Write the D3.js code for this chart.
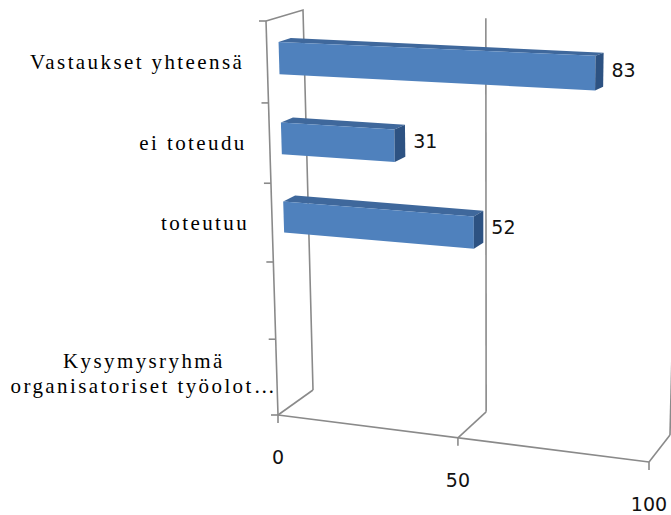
<!DOCTYPE html>
<html>
<head>
<meta charset="utf-8">
<script src="https://cdn.jsdelivr.net/npm/d3@7"></script>
<style>
  body { margin: 0; background: #fff; }
  .num { font-family: "DejaVu Sans", Verdana, sans-serif; font-size: 19px; fill: #111; }
</style>
</head>
<body>
<svg id="chart" width="671" height="515"></svg>
<script>
// categories in Excel order (first one sits at the bottom)
const categories = ["Kysymysryhmä\norganisatoriset työolot…", "", "toteutuu", "ei toteudu", "Vastaukset yhteensä"];
const values = [null, null, 52, 31, 83];
const xTicks = [0, 50, 100];

const svg = d3.select('#chart');

// corners of the 3D box on screen: t = top(0)/bottom(1), u = value 0/100
const front = { t0u0: [266, 21], t0u1: [658, 35], t1u0: [278, 415], t1u1: [649, 462] };
const back  = { t0u0: [303, 10], t0u1: [680, 27], t1u0: [313, 390], t1u1: [670, 435] };

const x = d3.scaleLinear().domain([0, 100]).range([0, 1]);
const y = d3.scaleBand()
  .domain(categories.slice().reverse())
  .range([0, 1])
  .paddingInner(0.6)
  .paddingOuter(0.3);

// a little perspective foreshortening
const warpU = u => u * (1 - 0.0583) / (1 - 0.0583 * u);
const warpT = t => t * 1.05 / (1 + 0.05 * t);
const lerp = (a, b, k) => [a[0] + (b[0] - a[0]) * k, a[1] + (b[1] - a[1]) * k];

function proj(v, t, z) {
  const u = warpU(x(v)), s = warpT(t);
  const plane = p => lerp(lerp(p.t0u0, p.t1u0, s), lerp(p.t0u1, p.t1u1, s), u);
  return lerp(plane(front), plane(back), z);
}

const line = d3.line();
const grid = svg.append('g')
  .attr('fill', 'none')
  .attr('stroke', '#8a8a8a')
  .attr('stroke-width', 1.6);

// left wall
grid.append('path').attr('d', line([proj(0, 0, 0), proj(0, 1, 0)]));
grid.append('path').attr('d', line([proj(0, 0, 0), proj(0, 0, 1), proj(0, 1, 1)]));
// back wall gridlines
xTicks.filter(v => v > 0).forEach(v => {
  grid.append('path').attr('d', line([proj(v, 0, 1), proj(v, 1, 1)]));
});
// floor
grid.append('path').attr('d', line([proj(0, 1, 0), proj(100, 1, 0)]));
xTicks.forEach(v => {
  grid.append('path').attr('d', line([proj(v, 1, 1), proj(v, 1, 0)]));
});

// category axis ticks
const step = y.step();
d3.range(categories.length + 1).forEach(i => {
  const p = proj(0, i * step, 0);
  grid.append('path').attr('d', line([[p[0] - 7, p[1]], p]));
});
// value axis ticks + labels
xTicks.forEach(v => {
  const p = proj(v, 1, 0);
  grid.append('path').attr('d', line([p, [p[0], p[1] + 8]]));
  svg.append('text')
    .attr('class', 'num')
    .attr('x', p[0])
    .attr('y', p[1] + 42)
    .attr('text-anchor', 'middle')
    .attr('dominant-baseline', 'central')
    .text(v);
});

// category labels
const catFont = t => t
  .attr('font-family', 'Liberation Serif')
  .attr('font-size', 21)
  .attr('letter-spacing', 2.4)
  .attr('fill', '#000');

categories.forEach(c => {
  if (!c) return;
  const tm = y(c) + y.bandwidth() / 2;
  const p = proj(0, tm, 0);
  const lines = c.split('\n');
  if (lines.length === 1) {
    svg.append('text')
      .call(catFont)
      .attr('x', p[0] - 23)
      .attr('y', p[1] + 7)
      .attr('text-anchor', 'end')
      .text(c);
  } else {
    lines.forEach((l, i) => {
      svg.append('text')
        .call(catFont)
        .attr('x', p[0] - 133)
        .attr('y', p[1] - 9 + i * 25)
        .attr('text-anchor', 'middle')
        .text(l);
    });
  }
});

// bars
const z0 = 0.32, z1 = 0.65;
const bars = svg.append('g');
categories.forEach((c, i) => {
  const v = values[i];
  if (v == null) return;
  const t0 = y(c), t1 = y(c) + y.bandwidth();
  const g = bars.append('g');
  // top face
  g.append('path')
    .attr('d', line([proj(0, t0, z0), proj(v, t0, z0), proj(v, t0, z1), proj(0, t0, z1)]) + 'Z')
    .attr('fill', '#3f689c');
  // front face
  g.append('path')
    .attr('d', line([proj(0, t0, z0), proj(v, t0, z0), proj(v, t1, z0), proj(0, t1, z0)]) + 'Z')
    .attr('fill', '#4f81bd');
  // end face
  g.append('path')
    .attr('d', line([proj(v, t0, z0), proj(v, t0, z1), proj(v, t1, z1), proj(v, t1, z0)]) + 'Z')
    .attr('fill', '#2d5282');

  const lp = proj(v, (t0 + t1) / 2, z1);
  svg.append('text')
    .attr('class', 'num')
    .attr('x', lp[0] + 8)
    .attr('y', lp[1])
    .attr('dominant-baseline', 'central')
    .text(v);
});
</script>
</body>
</html>
